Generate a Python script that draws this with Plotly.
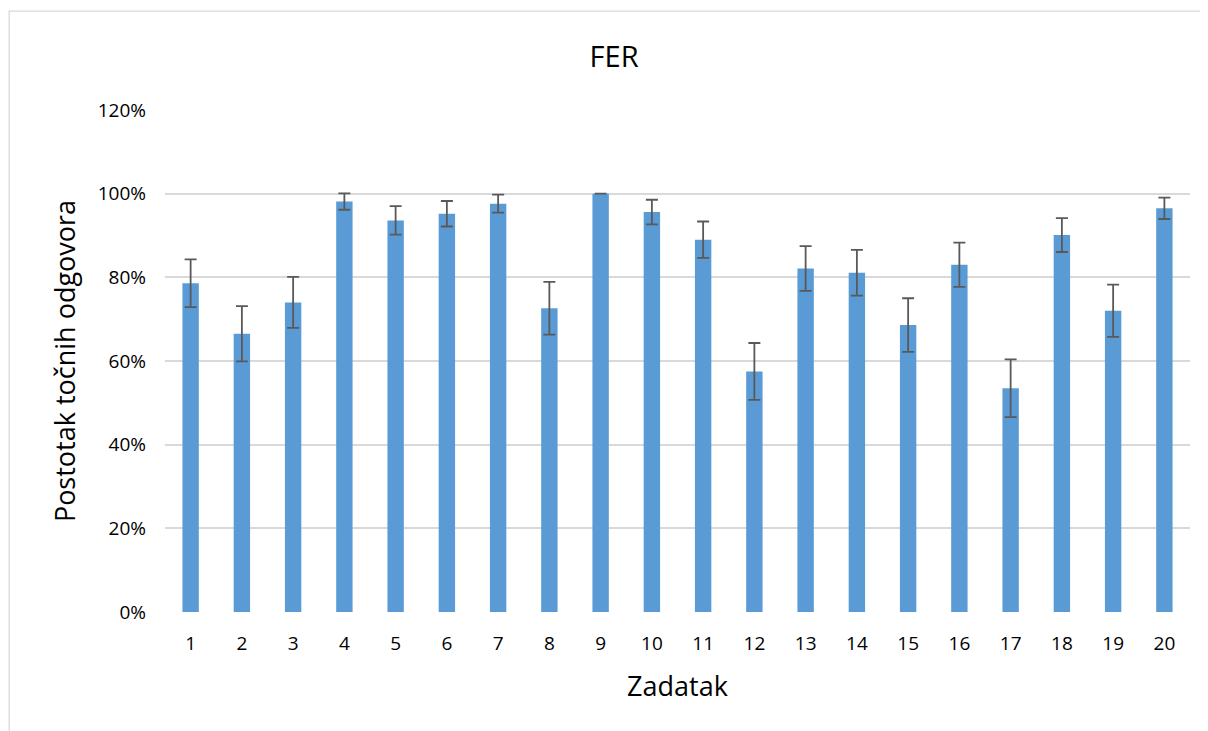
import plotly.graph_objects as go

# task numbers and share of correct answers (%), with symmetric error (%)
tasks = [str(i) for i in range(1, 21)]
correct = [78.6, 66.5, 74.0, 98.1, 93.6, 95.2, 97.6, 72.6, 100.0, 95.6,
           89.0, 57.5, 82.1, 81.1, 68.6, 83.0, 53.5, 90.1, 72.0, 96.5]
err = [5.7, 6.6, 6.1, 1.95, 3.4, 3.05, 2.15, 6.3, 0.0, 2.95,
       4.35, 6.8, 5.35, 5.45, 6.4, 5.3, 6.9, 4.05, 6.25, 2.55]
y_ticks = [0, 20, 40, 60, 80, 100, 120]
y_labels = ['%d%%' % v for v in y_ticks]

font = 'Open Sans, Noto Sans, sans-serif'

fig = go.Figure()
fig.add_trace(go.Bar(
    x=tasks,
    y=correct,
    marker=dict(color='#5B9BD5', line=dict(width=0)),
    error_y=dict(type='data', array=err, visible=True,
                 color='#595959', thickness=1.8, width=6),
    name=''
))

# page body adds 8px offset, margins compensate for it
fig.update_layout(
    width=1208,
    height=731,
    paper_bgcolor='white',
    plot_bgcolor='white',
    showlegend=False,
    bargap=0.68,
    margin=dict(l=157, r=26, t=102, b=127),
    title=dict(text='FER', x=0.5017, xanchor='center', y=0.933, yanchor='middle',
               font=dict(family=font, size=29, color='#000')),
    font=dict(family=font, color='#000'),
)

fig.update_xaxes(
    type='category',
    showgrid=False,
    showline=False,
    ticks='',
    tickfont=dict(size=19, color='#000'),
    ticklabelstandoff=18,
    title=dict(text='Zadatak', font=dict(size=27, color='#000'), standoff=22),
)

fig.update_yaxes(
    range=[0, 120],
    tickvals=y_ticks,
    ticktext=y_labels,
    showgrid=True,
    gridcolor='#D9D9D9',
    gridwidth=1.5,
    zeroline=False,
    showline=False,
    ticks='',
    tickfont=dict(size=19, color='#000'),
    ticklabelstandoff=18,
    title=dict(text='Postotak točnih odgovora', font=dict(size=27, color='#000'), standoff=14),
)

# outer chart border
fig.add_shape(type='rect', xref='paper', yref='paper',
              x0=-0.152, x1=1.2, y0=-0.4, y1=1.197,
              line=dict(color='#D9D9D9', width=1.3), layer='below')

fig.write_html('out.html')
